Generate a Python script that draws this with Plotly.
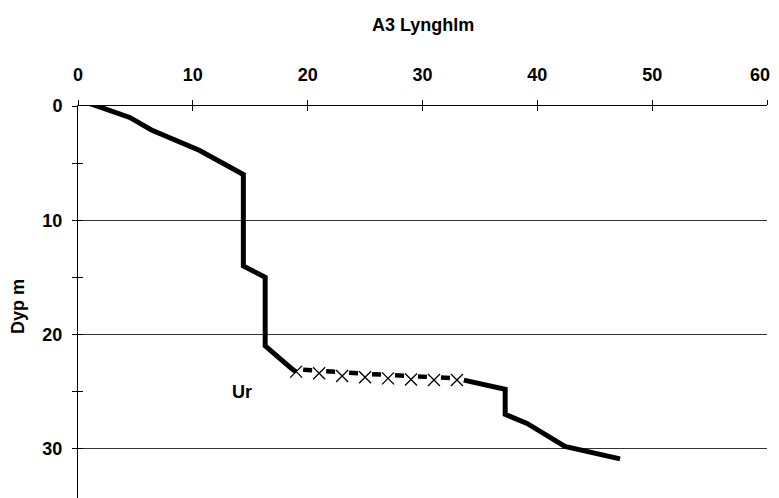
import plotly.graph_objects as go

title_text = "A3 Lynghlm"
y_title = "Dyp m"
label_text = "Ur"

# main line, upper part (x = value, y = depth m)
upper_x = [0.5, 4.5, 6.4, 10.6, 14.4, 14.4, 16.3, 16.3, 18.6, 19.0]
upper_y = [-0.4, 1.0, 2.1, 3.9, 6.0, 14.0, 15.0, 21.0, 23.0, 23.3]

# "Ur" section with X markers
ur_x = [19, 21, 23, 25, 27, 29, 31, 33]
ur_y = [23.26, 23.40, 23.65, 23.75, 23.85, 23.95, 24.0, 24.0]
ur_dash_y = [23.05, 23.2, 23.35, 23.45, 23.55, 23.65, 23.75, 23.85]

# main line, lower part
lower_x = [33.6, 37.2, 37.2, 39.1, 42.4, 44.3, 47.2]
lower_y = [24.0, 24.8, 27.0, 27.8, 29.8, 30.2, 30.9]

x_ticks = [0, 10, 20, 30, 40, 50, 60]
# last label padded so it sits inside the page edge, as in the original
x_tick_labels = ["0", "10", "20", "30", "40", "50", "60\u2002\u00a0"]
y_ticks = [0, 10, 20, 30]

FONT = "Liberation Sans, Arial, sans-serif"
FS = 18
TF = dict(size=FS, family=FONT, color="black", weight="bold")

# page body has an 8px default margin; figure is sized so the plot lands in place
W, H = 771, 490
ML, MR, MT, MB = 70, 12, 98, 0
PH = H - MT - MB
PW = W - ML - MR
PX_PER_DEPTH = 11.42

fig = go.Figure()
fig.add_trace(go.Scatter(x=upper_x, y=upper_y, mode="lines",
                         line=dict(color="black", width=5), showlegend=False))
fig.add_trace(go.Scatter(x=ur_x, y=ur_dash_y, mode="lines",
                         line=dict(color="black", width=4.5, dash="0px,7px,9px,7px"),
                         showlegend=False))
fig.add_trace(go.Scatter(x=ur_x, y=ur_y, mode="markers",
                         marker=dict(symbol="x-thin-open", size=12, color="black",
                                     line=dict(color="black", width=1.3)),
                         showlegend=False))
fig.add_trace(go.Scatter(x=lower_x, y=lower_y, mode="lines",
                         line=dict(color="black", width=5), showlegend=False))
# invisible trace to activate the overlay axes (crossing ticks)
fig.add_trace(go.Scatter(x=[None], y=[None], xaxis="x2", yaxis="y2",
                         mode="markers", showlegend=False, hoverinfo="skip"))

fig.add_annotation(x=14.3, y=25.0, xref="x", yref="y", text=label_text,
                   showarrow=False, font=TF)
fig.add_annotation(x=(10 - ML) / PW, y=1 - (299 - MT) / PH, xref="paper", yref="paper",
                   text=y_title, textangle=-90, showarrow=False,
                   xanchor="center", yanchor="middle", font=TF)
fig.add_annotation(x=0.5, y=1 + (MT - 17) / PH, xref="paper", yref="paper",
                   text=title_text, showarrow=False, xanchor="center",
                   yanchor="middle", font=TF)

xrange = [0, 60]
yrange = [PH / PX_PER_DEPTH, 0]

fig.update_layout(
    width=W, height=H,
    margin=dict(l=ML, r=MR, t=MT, b=MB, autoexpand=False),
    paper_bgcolor="white", plot_bgcolor="white",
    font=dict(family=FONT, size=FS, color="black"),
    xaxis=dict(side="top", range=xrange, tickvals=x_ticks, ticktext=x_tick_labels,
               ticks="outside", ticklen=5, tickwidth=1, tickcolor="black",
               showgrid=False, zeroline=False, showline=True, linecolor="black",
               linewidth=1, ticklabelstandoff=12, tickfont=TF, automargin=False,
               ticklabeloverflow="allow"),
    yaxis=dict(range=yrange, tickvals=y_ticks, ticks="outside", ticklen=5,
               tickwidth=1, tickcolor="black", showgrid=True, gridcolor="#333",
               gridwidth=1, zeroline=False, showline=True, linecolor="black",
               linewidth=1, ticklabelstandoff=6, tickfont=TF, automargin=False,
               minor=dict(tickvals=[5, 15, 25], ticks="outside", ticklen=5,
                          tickcolor="black", showgrid=False)),
    xaxis2=dict(overlaying="x", side="top", range=xrange, tickvals=x_ticks,
                ticks="inside", ticklen=5, tickcolor="black", showticklabels=False,
                showgrid=False, zeroline=False, showline=False, automargin=False),
    yaxis2=dict(overlaying="y", side="left", range=yrange, tickvals=y_ticks,
                ticks="inside", ticklen=5, tickcolor="black", showticklabels=False,
                showgrid=False, zeroline=False, showline=False, automargin=False,
                minor=dict(tickvals=[5, 15, 25], ticks="inside", ticklen=5,
                           tickcolor="black", showgrid=False)),
)

fig.write_html("out.html")
